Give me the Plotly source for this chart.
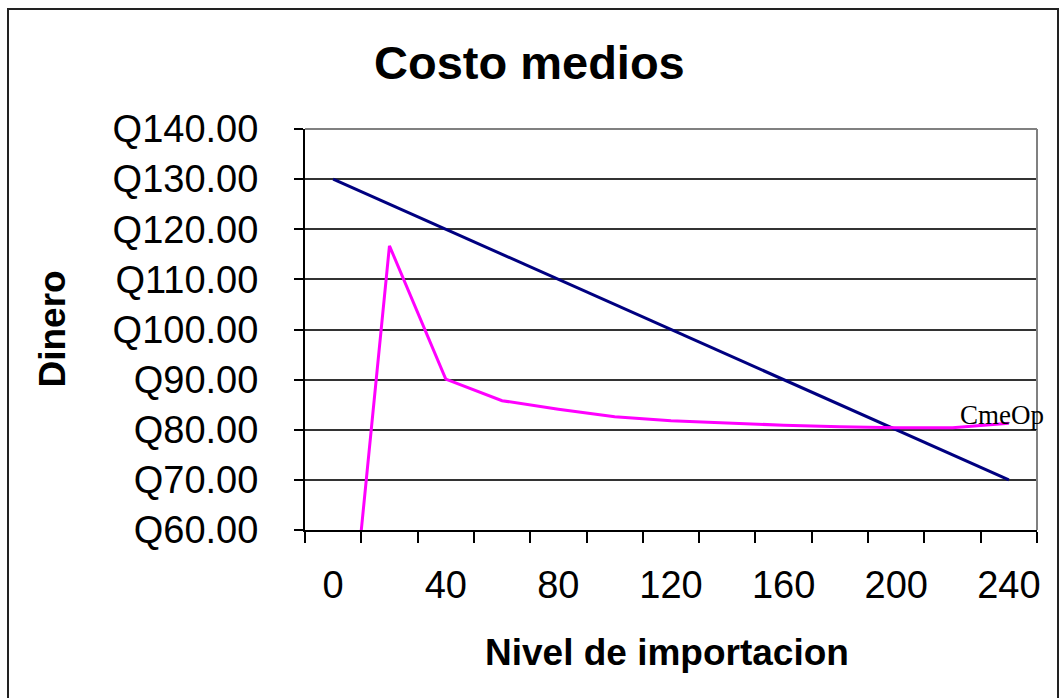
import plotly.graph_objects as go

# Nivel de importacion (categorías del eje X)
nivel = [0, 20, 40, 60, 80, 100, 120, 140, 160, 180, 200, 220, 240]
# Costo medio decreciente (línea azul)
costo_medio = [130, 125, 120, 115, 110, 105, 100, 95, 90, 85, 80, 75, 70]
# Costo medio operativo CmeOp (línea magenta)
cme_op = [3.3, 116.7, 90.1, 85.8, 84.1, 82.6, 81.8, 81.3, 80.9, 80.6, 80.4, 80.4, 81.3]

y_ticks = [60, 70, 80, 90, 100, 110, 120, 130, 140]
y_labels = ["Q60.00", "Q70.00", "Q80.00", "Q90.00", "Q100.00",
            "Q110.00", "Q120.00", "Q130.00", "Q140.00"]
x_ticks = [0, 40, 80, 120, 160, 200, 240]

W, H = 1061, 698
L, R, T, B = 305, 24, 129, 168
pw, ph = W - L - R, H - T - B


def px_x(px):
    return (px - L) / pw


def px_y(py):
    return (H - B - py) / ph


FONT = "Arial, Liberation Sans, sans-serif"

fig = go.Figure()
fig.add_trace(go.Scatter(x=nivel, y=costo_medio, mode="lines",
                         line=dict(color="#000080", width=3), name="Cme"))
fig.add_trace(go.Scatter(x=nivel, y=cme_op, mode="lines",
                         line=dict(color="#FF00FF", width=3), name="CmeOp"))

fig.update_layout(
    width=W, height=H,
    margin=dict(l=L, r=R, t=T, b=B),
    paper_bgcolor="white", plot_bgcolor="white",
    showlegend=False,
    font=dict(family=FONT, color="black"),
)

fig.update_xaxes(
    range=[-10, 250],
    tickvals=x_ticks, ticktext=[str(v) for v in x_ticks],
    ticks="", showgrid=False, zeroline=False,
    tickfont=dict(size=38, family=FONT),
    ticklabelstandoff=20,
    showline=True, linecolor="black", linewidth=2,
    minor=dict(tick0=-10, dtick=20, ticks="outside", ticklen=11,
               tickcolor="black", tickwidth=1.5, showgrid=False),
)

fig.update_yaxes(
    range=[60, 140],
    tickvals=y_ticks, ticktext=y_labels,
    ticks="outside", ticklen=9, tickcolor="black", tickwidth=1.5,
    tickfont=dict(size=38, family=FONT),
    ticklabelstandoff=28,
    showgrid=True, gridcolor="#333333", gridwidth=1.5,
    zeroline=False,
    showline=True, linecolor="black", linewidth=2,
)

# Borde superior y derecho del área de trazado
fig.add_shape(type="line", xref="x domain", yref="y domain",
              x0=0, x1=1, y0=1, y1=1, line=dict(color="#808080", width=2), layer="above")
fig.add_shape(type="line", xref="x domain", yref="y domain",
              x0=1, x1=1, y0=0, y1=1, line=dict(color="#808080", width=2), layer="above")

# Marco exterior del gráfico
fig.add_shape(type="rect", xref="paper", yref="paper",
              x0=px_x(8), x1=px_x(1058), y0=px_y(720), y1=px_y(9),
              line=dict(color="#222222", width=2), layer="below")

# Título y títulos de ejes
fig.add_annotation(text="<b>Costo medios</b>", xref="paper", yref="paper",
                   x=px_x(529.5), y=px_y(62), xanchor="center", yanchor="middle",
                   showarrow=False, font=dict(size=47, family=FONT))
fig.add_annotation(text="<b>Dinero</b>", xref="paper", yref="paper",
                   x=px_x(52), y=0.5, xanchor="center", yanchor="middle",
                   textangle=-90, showarrow=False, font=dict(size=37, family=FONT))
fig.add_annotation(text="<b>Nivel de importacion</b>", xref="paper", yref="paper",
                   x=px_x(667), y=px_y(652), xanchor="center", yanchor="middle",
                   showarrow=False, font=dict(size=37, family=FONT))

# Etiqueta de la serie CmeOp en su último punto
fig.add_annotation(text="CmeOp", x=nivel[-1], y=cme_op[-1],
                   xanchor="center", yanchor="middle", xshift=-7, yshift=8,
                   showarrow=False,
                   font=dict(size=27, family="Times New Roman, Liberation Serif, serif"))

fig.write_html("out.html")
